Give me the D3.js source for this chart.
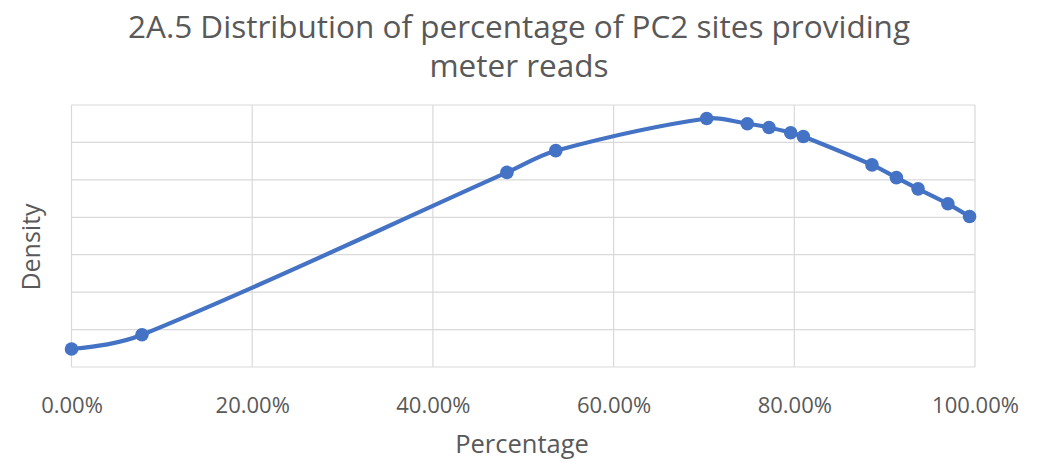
<!DOCTYPE html>
<html>
<head>
<meta charset="utf-8">
<script src="https://cdn.jsdelivr.net/npm/d3@7"></script>
<style>
  body { margin: 0; background: #fff; }
  svg { display: block; font-family: "Open Sans", sans-serif; }
  .grid line { stroke: #d9d9d9; stroke-width: 1.2; }
  .label { fill: #595959; }
</style>
</head>
<body>
<div id="chart"></div>
<script>
// percentage of PC2 sites providing meter reads (x) and estimated density (y)
const percentage = [0, 7.8, 48.2, 53.6, 70.3, 74.8, 77.2, 79.6, 81.0, 88.6, 91.3, 93.7, 97.0, 99.4];
const density = [0.0024, 0.0043, 0.0260, 0.0289, 0.0332, 0.0325, 0.0320, 0.0313, 0.0308, 0.0270, 0.0253, 0.0238, 0.0218, 0.0201];
const xTicks = [0, 20, 40, 60, 80, 100];
const yTicks = [0, 0.005, 0.01, 0.015, 0.02, 0.025, 0.03, 0.035];
const titleLines = ['2A.5 Distribution of percentage of PC2 sites providing', 'meter reads'];

const width = 1048, height = 466;
const margin = {top: 105, right: 73, bottom: 99, left: 71.5};
const chartWidth = width - margin.left - margin.right;
const chartHeight = height - margin.top - margin.bottom;

// excel-like smoothing: tangent from neighbours, split by segment lengths,
// natural (flat) ends
function curveSmooth(context) {
  let pts = [];
  return {
    lineStart() { pts = []; },
    lineEnd() {
      const n = pts.length;
      if (!n) return;
      context.moveTo(pts[0][0], pts[0][1]);
      if (n === 1) return;
      if (n === 2) { context.lineTo(pts[1][0], pts[1][1]); return; }
      const dist = (a, b) => Math.hypot(b[0] - a[0], b[1] - a[1]);
      const ctrl = pts.map((p, i) => {
        if (i === 0 || i === n - 1) return null;
        const prev = pts[i - 1], next = pts[i + 1];
        const tx = next[0] - prev[0], ty = next[1] - prev[1];
        const d0 = dist(prev, p), d1 = dist(p, next);
        const s = d0 + d1;
        return {
          inX: p[0] - tx * (d0 / s) / 3, inY: p[1] - ty * (d0 / s) / 3,
          outX: p[0] + tx * (d1 / s) / 3, outY: p[1] + ty * (d1 / s) / 3
        };
      });
      // ends: control halfway to neighbour's control point
      ctrl[0] = {outX: (pts[0][0] + ctrl[1].inX) / 2, outY: (pts[0][1] + ctrl[1].inY) / 2};
      ctrl[n - 1] = {inX: (pts[n - 1][0] + ctrl[n - 2].outX) / 2, inY: (pts[n - 1][1] + ctrl[n - 2].outY) / 2};
      for (let i = 1; i < n; i++) {
        context.bezierCurveTo(ctrl[i - 1].outX, ctrl[i - 1].outY, ctrl[i].inX, ctrl[i].inY, pts[i][0], pts[i][1]);
      }
    },
    areaStart() {}, areaEnd() {},
    point(x, y) { pts.push([x, y]); }
  };
}

const svg = d3.select('#chart').append('svg')
  .attr('width', width)
  .attr('height', height);

const xScale = d3.scaleLinear().domain([0, 100]).range([0, chartWidth]);
const yScale = d3.scaleLinear().domain([0, 0.035]).range([chartHeight, 0]);

const chart = svg.append('g')
  .attr('transform', `translate(${margin.left},${margin.top})`);

// gridlines
chart.append('g').attr('class', 'grid')
  .selectAll('line').data(yTicks).enter().append('line')
  .attr('x1', 0).attr('x2', chartWidth)
  .attr('y1', d => yScale(d)).attr('y2', d => yScale(d));
chart.append('g').attr('class', 'grid')
  .selectAll('line').data(xTicks).enter().append('line')
  .attr('x1', d => xScale(d)).attr('x2', d => xScale(d))
  .attr('y1', 0).attr('y2', chartHeight);

// x axis labels
const xAxis = chart.append('g')
  .attr('transform', `translate(0,${chartHeight})`)
  .call(d3.axisBottom(xScale).tickValues(xTicks).tickSize(0).tickPadding(0)
    .tickFormat(d => d.toFixed(2) + '%'));
xAxis.select('.domain').remove();
xAxis.selectAll('text')
  .attr('class', 'label')
  .attr('dy', null)
  .attr('y', 46)
  .style('font-family', '"Open Sans", sans-serif')
  .style('font-size', '22px');

// line + markers
const points = percentage.map((p, i) => [p, density[i]]);
const line = d3.line()
  .x(d => xScale(d[0]))
  .y(d => yScale(d[1]))
  .curve(curveSmooth);

chart.append('path')
  .datum(points)
  .attr('d', line)
  .attr('fill', 'none')
  .attr('stroke', '#4472c4')
  .attr('stroke-width', 4.2)
  .attr('stroke-linejoin', 'round')
  .attr('stroke-linecap', 'round');

chart.selectAll('.dot').data(points).enter().append('circle')
  .attr('class', 'dot')
  .attr('cx', d => xScale(d[0]))
  .attr('cy', d => yScale(d[1]))
  .attr('r', 6.8)
  .attr('fill', '#4472c4');

// title
svg.append('text')
  .attr('class', 'label')
  .attr('text-anchor', 'middle')
  .style('font-size', '31.5px')
  .selectAll('tspan').data(titleLines).enter().append('tspan')
  .attr('x', 519)
  .attr('y', (d, i) => 38 + i * 39)
  .text(d => d);

// axis titles
svg.append('text')
  .attr('class', 'label')
  .attr('text-anchor', 'middle')
  .attr('x', 522)
  .attr('y', 453)
  .style('font-size', '25.5px')
  .text('Percentage');

svg.append('text')
  .attr('class', 'label')
  .attr('text-anchor', 'middle')
  .attr('transform', 'translate(40,247) rotate(-90)')
  .style('font-size', '25px')
  .text('Density');
</script>
</body>
</html>
